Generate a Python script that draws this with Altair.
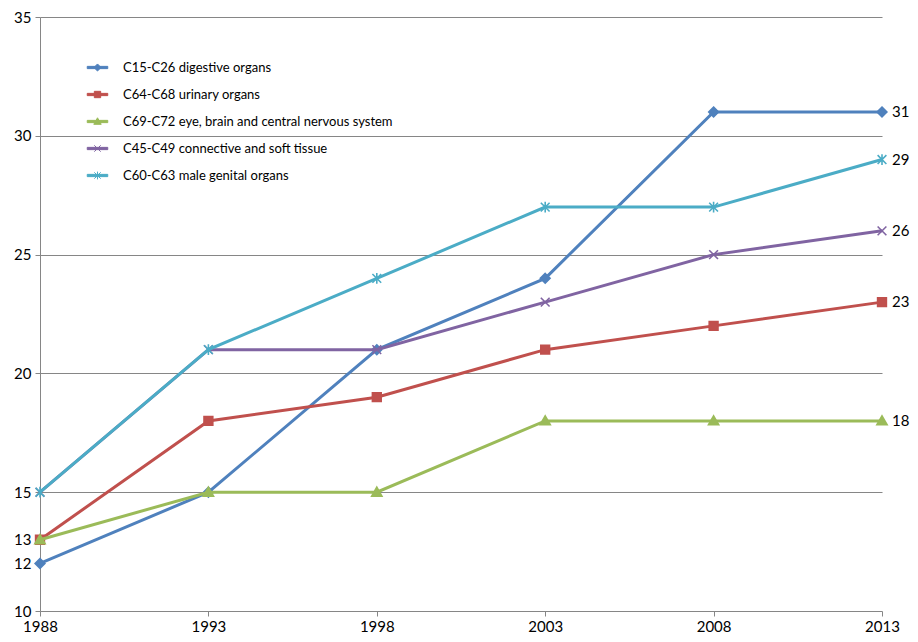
import altair as alt
import pandas as pd

years = [1988, 1993, 1998, 2003, 2008, 2013]
digestive = [12, 15, 21, 24, 31, 31]
urinary = [13, 18, 19, 21, 22, 23]
eye_brain = [13, 15, 15, 18, 18, 18]
connective = [15, 21, 21, 23, 25, 26]
male_genital = [15, 21, 24, 27, 27, 29]

series_names = [
    "C15-C26 digestive organs",
    "C64-C68 urinary organs",
    "C69-C72 eye, brain and central nervous system",
    "C45-C49 connective and soft tissue",
    "C60-C63 male genital organs",
]
series_values = [digestive, urinary, eye_brain, connective, male_genital]
colors = ["#4F81BD", "#C0504D", "#9BBB59", "#8064A2", "#4BACC6"]
y_ticks = [10, 12, 13, 15, 20, 25, 30, 35]

# marker shapes, as in the spreadsheet chart
markers = [
    "M0,-1L1,0L0,1L-1,0Z",                      # diamond
    "M-0.9,-0.9H0.9V0.9H-0.9Z",                 # square
    "M0,-1.05L1.05,0.8H-1.05Z",                 # triangle
    "M-0.9,-0.9L0.9,0.9M-0.9,0.9L0.9,-0.9",     # x
    "M-0.9,-0.9L0.9,0.9M-0.9,0.9L0.9,-0.9M0,-1.1V1.1",  # asterisk
]
# legend symbols: a short thick line (filled bar) with the marker on it
legend_paths = ["M-2.9,-0.32H2.9V0.32H-2.9Z" + m for m in markers]

rows = []
for name, vals in zip(series_names, series_values):
    for yr, v in zip(years, vals):
        rows.append({"year": yr, "value": v, "series": name})
df = pd.DataFrame(rows)

grey = "#868686"

x_enc = alt.X("year:Q",
              scale=alt.Scale(domain=[1988, 2013], nice=False, zero=False),
              axis=alt.Axis(values=years, format="d", title=None, grid=False,
                            labelFontSize=15, labelColor="black", labelPadding=3,
                            tickSize=5, tickColor=grey, domainColor=grey,
                            labelFlush=False))
y_enc = alt.Y("value:Q",
              scale=alt.Scale(domain=[10, 35], nice=False, zero=False),
              axis=alt.Axis(values=y_ticks, title=None,
                            gridOpacity=alt.condition("datum.value < 15", alt.value(0), alt.value(1)),
                            gridColor=grey, labelFontSize=15, labelColor="black",
                            labelPadding=4, tickSize=5, tickColor=grey, domainColor=grey))

layers = []
for name, col, mk in zip(series_names, colors, markers):
    part = alt.Chart(df).transform_filter(alt.datum.series == name)
    line = part.mark_line(color=col, strokeWidth=3).encode(x=x_enc, y=y_enc)
    pts = part.mark_point(shape=mk, filled=True, fill=col, stroke=col,
                          strokeWidth=1.6, size=95, opacity=1).encode(x=x_enc, y=y_enc)
    layers += [line, pts]

end_labels = alt.Chart(df).transform_filter(alt.datum.year == 2013).mark_text(
    align="left", baseline="middle", dx=10, fontSize=15, color="black"
).encode(x=x_enc, y=y_enc, text="value:Q")

leg = alt.Legend(title=None, orient="none", legendX=40, legendY=44, padding=0,
                 labelFontSize=13, labelColor="black", labelLimit=0,
                 symbolOffset=11, labelOffset=19, rowPadding=13, symbolSize=50,
                 symbolStrokeWidth=1)
legend_layer = alt.Chart(pd.DataFrame({"series": series_names})).transform_filter(
    "false"
).mark_point(filled=True, size=50, strokeWidth=1, opacity=1).encode(
    x=alt.value(0), y=alt.value(0),
    fill=alt.Fill("series:N", scale=alt.Scale(domain=series_names, range=colors), legend=leg),
    stroke=alt.Stroke("series:N", scale=alt.Scale(domain=series_names, range=colors), legend=leg),
    shape=alt.Shape("series:N", scale=alt.Scale(domain=series_names, range=legend_paths), legend=leg),
)

chart = alt.layer(*layers, end_labels, legend_layer).properties(
    width=842, height=594,
    autosize=alt.AutoSizeParams(type="none"),
    padding={"left": 32, "top": 9, "right": 28, "bottom": 23},
).configure(font="Lato").configure_view(stroke=None)

chart.save("out.html", embed_options={"renderer": "svg", "actions": False})
